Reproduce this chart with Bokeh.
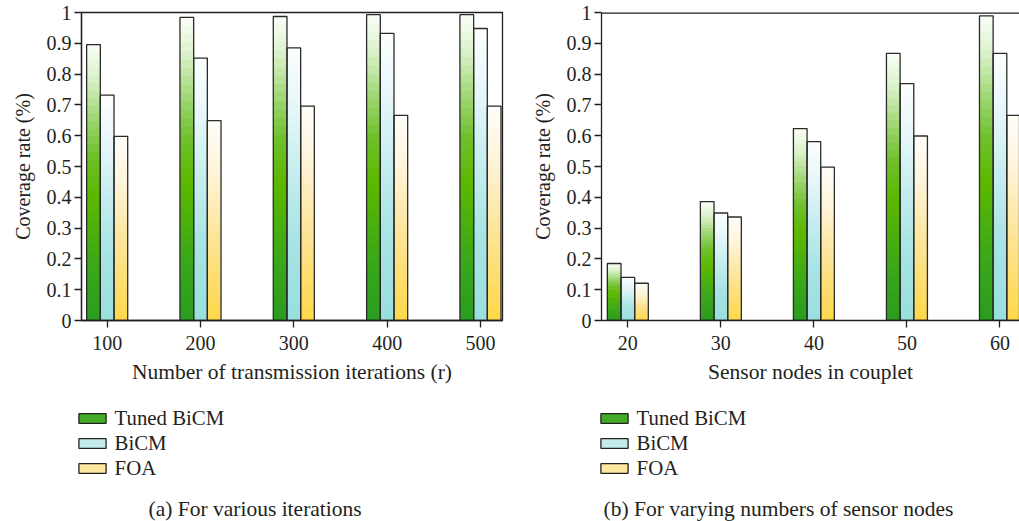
from bokeh.plotting import figure
from bokeh.layouts import row, column
from bokeh.models import (ColumnDataSource, FixedTicker, Legend, LegendItem,
                          Label, Span)
from bokeh.embed import file_html
from bokeh.resources import INLINE

# ---------------- data ----------------
iterations = [100, 200, 300, 400, 500]
tuned_a = [0.896, 0.984, 0.987, 0.993, 0.993]
bicm_a = [0.732, 0.852, 0.885, 0.932, 0.948]
foa_a = [0.598, 0.649, 0.696, 0.666, 0.696]

nodes = [20, 30, 40, 50, 60]
tuned_b = [0.185, 0.386, 0.623, 0.867, 0.989]
bicm_b = [0.140, 0.349, 0.581, 0.769, 0.867]
foa_b = [0.121, 0.336, 0.498, 0.599, 0.666]

series_names = ["Tuned BiCM", "BiCM", "FOA"]
y_ticks = [0, 0.1, 0.2, 0.3, 0.4, 0.5, 0.6, 0.7, 0.8, 0.9, 1]
y_tick_labels = ["0", "0.1", "0.2", "0.3", "0.4", "0.5", "0.6", "0.7", "0.8", "0.9", "1"]
captions = ["(a) For various iterations", "(b) For varying numbers of sensor nodes"]

# ---------------- styles ----------------
FONT = "Liberation Serif"
TXT = "#231f20"
GRADS = [
    [(0.0, "#2a9c1e"), (0.2, "#3aa81a"), (0.45, "#5cb800"), (0.6, "#6fc02c"),
     (0.74, "#a2d878"), (0.87, "#d8f0c6"), (1.0, "#fbfef8")],
    [(0.0, "#98dfdd"), (0.3, "#a9e4e4"), (0.55, "#c6edef"), (0.78, "#e6f7f9"),
     (1.0, "#fcfeff")],
    [(0.0, "#fdd84a"), (0.25, "#fddf78"), (0.5, "#fde8a8"), (0.76, "#fff5dd"),
     (1.0, "#fffefa")],
]
SWATCH = ["#44ab26", "#c4ecec", "#fde6a0"]
NSLICE = 36
NAN = float("nan")


def hex2rgb(h):
    h = h.lstrip("#")
    return tuple(int(h[i:i + 2], 16) for i in (0, 2, 4))


def grad_color(stops, f):
    for (f0, c0), (f1, c1) in zip(stops[:-1], stops[1:]):
        if f <= f1:
            t = (f - f0) / (f1 - f0) if f1 > f0 else 0
            a, b = hex2rgb(c0), hex2rgb(c1)
            return "#%02x%02x%02x" % tuple(round(a[i] + (b[i] - a[i]) * t) for i in range(3))
    return stops[-1][1]


def make_panel(cats, vals, x_range, bar_w, width, min_left, min_right, xlabel,
               right_border, xlabel_size):
    p = figure(width=width, height=390, x_range=x_range, y_range=(0, 1),
               output_backend="svg", toolbar_location=None,
               min_border_left=min_left, min_border_right=min_right,
               min_border_top=12, min_border_bottom=70)
    p.xgrid.grid_line_color = None
    p.ygrid.grid_line_color = None
    p.background_fill_color = "white"
    p.border_fill_color = "white"
    if right_border:
        p.outline_line_color = "#231f20"
        p.outline_line_width = 1.3
    else:
        p.outline_line_color = None
        p.add_layout(Span(location=1, dimension="width", line_color="#231f20",
                          line_width=2.6))

    xs, bots, tops, cols = [], [], [], []
    ox, otop = [], []
    for s, v in enumerate(vals):
        off = (s - 1) * bar_w
        for c, val in zip(cats, v):
            for k in range(NSLICE):
                xs.append(c + off)
                bots.append(val * k / NSLICE)
                tops.append(min(val, val * (k + 1.4) / NSLICE))
                cols.append(grad_color(GRADS[s], (k + 0.5) / NSLICE))
            ox.append(c + off)
            otop.append(val)
    src = ColumnDataSource(dict(x=xs, bottom=bots, top=tops, color=cols))
    p.vbar(x="x", bottom="bottom", top="top", width=bar_w, source=src,
           fill_color="color", line_color=None)
    p.vbar(x=ox, top=otop, bottom=0, width=bar_w, fill_color=None,
           line_color="#2b2b2b", line_width=1.3)

    for ax in (p.xaxis, p.yaxis):
        ax.axis_line_color = "#231f20"
        ax.axis_line_width = 1.3
        ax.major_tick_line_color = "#231f20"
        ax.major_tick_line_width = 1.3
        ax.major_tick_in = 0
        ax.major_tick_out = 7
        ax.minor_tick_line_color = None
        ax.major_label_text_font = FONT
        ax.major_label_text_font_size = "20px"
        ax.major_label_text_color = TXT
        ax.axis_label_text_font = FONT
        ax.axis_label_text_font_size = "20px"
        ax.axis_label_text_font_style = "normal"
        ax.axis_label_text_color = TXT
    p.xaxis.axis_label_text_font_size = xlabel_size
    p.xaxis.ticker = FixedTicker(ticks=cats)
    p.yaxis.ticker = FixedTicker(ticks=y_ticks)
    p.yaxis.major_label_overrides = {t: l for t, l in zip(y_ticks, y_tick_labels)}
    p.xaxis.major_label_standoff = 8
    p.yaxis.major_label_standoff = 3
    p.xaxis.axis_label = xlabel
    p.yaxis.axis_label = "Coverage rate (%)"
    p.xaxis.axis_label_standoff = 7
    p.yaxis.axis_label_standoff = 10
    return p


pa = make_panel(iterations, [tuned_a, bicm_a, foa_a], (72.5, 523.6), 14.67,
                510, 81, 8, "Number of transmission iterations (r)", True, "21.5px")
pb = make_panel(nodes, [tuned_b, bicm_b, foa_b], (17.17, 62.1), 1.468,
                509, 91, 0, "Sensor nodes in couplet", False, "21.5px")

# ---------------- bottom strip: legends and captions ----------------
bot = figure(width=1019, height=131, x_range=(0, 1019), y_range=(0, 131),
             output_backend="svg", toolbar_location=None,
             min_border=0, min_border_left=0, min_border_right=0,
             min_border_top=0, min_border_bottom=0)
bot.axis.visible = False
bot.grid.grid_line_color = None
bot.outline_line_color = None
bot.background_fill_color = "white"
bot.border_fill_color = "white"

for legx, capx, cap in ((74.6, 148, captions[0]), (596.6, 603, captions[1])):
    items = []
    for s, name in enumerate(series_names):
        # proxy renderer with a NaN position: never drawn, only feeds the legend swatch
        r = bot.vbar(x=[NAN], top=[NAN], bottom=[NAN], width=1,
                     fill_color=SWATCH[s], line_color="#222222", line_width=1.3)
        items.append(LegendItem(label=name, renderers=[r]))
    leg = Legend(items=items, location=(legx, 41), orientation="vertical",
                 glyph_width=34, glyph_height=12, label_height=24, spacing=1,
                 label_standoff=6, padding=0, margin=0,
                 border_line_color=None, background_fill_alpha=0,
                 label_text_font=FONT, label_text_font_size="20.8px",
                 label_text_color=TXT)
    bot.add_layout(leg, "center")
    bot.add_layout(Label(x=capx, y=13, x_units="screen", y_units="screen",
                         text=cap, text_font=FONT, text_font_size="21.5px",
                         text_color=TXT, text_baseline="middle", text_align="left"))

layout = column(row(pa, pb), bot)
open("out.html", "w").write(file_html(layout, INLINE))
